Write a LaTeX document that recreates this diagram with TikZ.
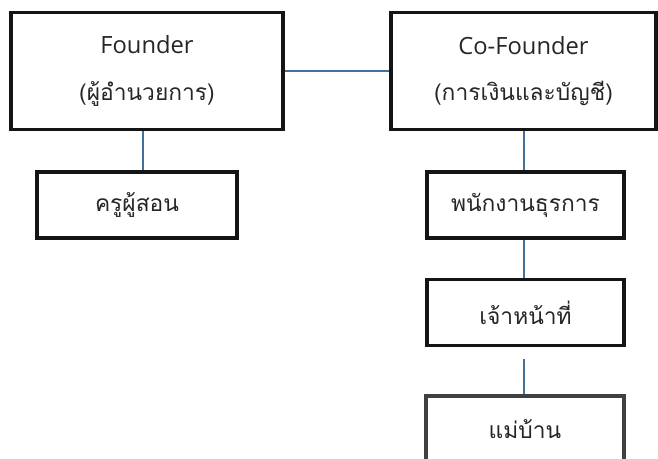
\documentclass[tikz,border=0pt]{standalone}
\usepackage{fontspec}
\setmainfont{Open Sans}
\newfontfamily\thai[Script=Thai,Scale=0.96]{Loma}
\definecolor{conn}{RGB}{65,113,156}
\definecolor{boxline}{RGB}{20,20,20}
\tikzset{
  orgbox/.style={draw=boxline, line width=2.3pt, fill=white, align=center, inner sep=0pt,
    font=\fontsize{17.8}{35}\selectfont, text=black!85},
  link/.style={draw=conn, line width=0.9pt}
}
\begin{document}
\begin{tikzpicture}[x=0.75pt,y=-0.75pt]
\clip (0,0) rectangle (658,459);
\fill[white] (0,0) rectangle (658,459);
\node[orgbox, minimum width=204pt, minimum height=87.5pt] (f) at (147,71)
  {Founder\\{\thai (ผู้อำนวยการ)}};
\node[orgbox, minimum width=198.75pt, minimum height=88pt] (c) at (523.5,71)
  {Co-Founder\\{\thai (การเงินและบัญชี)}};
\node[orgbox, minimum width=150pt, minimum height=49.5pt] (k) at (137,205)
  {\thai ครูผู้สอน};
\node[orgbox, minimum width=147.75pt, minimum height=49.5pt] (p) at (525.5,205)
  {\thai พนักงานธุรการ};
\node[orgbox, minimum width=147.75pt, minimum height=49pt] (j) at (525.5,312.5)
  {\thai เจ้าหน้าที่};
\node[orgbox, draw=black!75, minimum width=148.5pt, minimum height=49.5pt] (m) at (525,429)
  {\thai แม่บ้าน};
\coordinate (gapstart) at (524,359);
\draw[link] (f.east) -- (c.west);
\draw[link] (143,0 |- f.south) -- (143,0 |- k.north);
\draw[link] (524,0 |- c.south) -- (524,0 |- p.north);
\draw[link] (524,0 |- p.south) -- (524,0 |- j.north);
\draw[link] (gapstart) -- (gapstart |- m.north);
\end{tikzpicture}
\end{document}
